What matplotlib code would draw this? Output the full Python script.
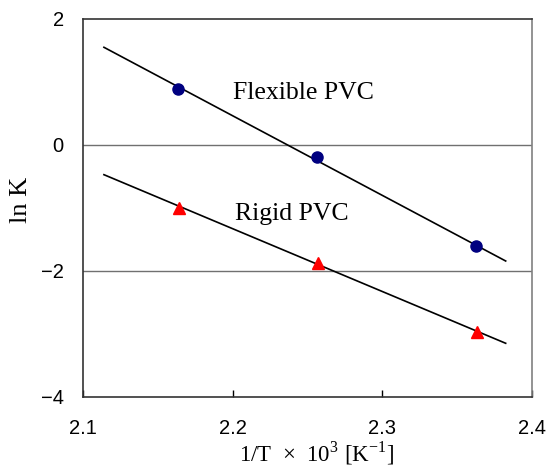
import numpy as np
import matplotlib
matplotlib.use("Agg")
import matplotlib.pyplot as plt

plt.rcParams['mathtext.fontset'] = 'custom'
plt.rcParams['mathtext.rm'] = 'Liberation Serif'

# data
flex_x = [2.1634, 2.2562, 2.3625]
flex_y = [0.889, -0.19, -1.608]
rigid_x = [2.1638, 2.2568, 2.3632]
rigid_y = [-1.01, -1.883, -2.978]

# trend line end points
line_x = [2.1138, 2.3826]
flex_line_y = [1.546, -1.846]
rigid_line_y = [-0.476, -3.152]

x_ticks = [2.1, 2.2, 2.3, 2.4]
y_ticks = [-4, -2, 0, 2]
y_tick_labels = ['\u22124', '\u22122', '0', '2']

fig = plt.figure(figsize=(5.47, 4.66), dpi=100)
ax = fig.add_axes([0.1523, 0.1487, 0.8197, 0.8112])

for yg in [0, -2]:
    ax.axhline(yg, color='#707070', lw=1.0, zorder=1)

ax.plot(line_x, flex_line_y, color='black', lw=1.2, zorder=2)
ax.plot(line_x, rigid_line_y, color='black', lw=1.2, zorder=2)
ax.plot(flex_x, flex_y, 'o', color='#000080', ms=8, zorder=3)
ax.plot(rigid_x, rigid_y, '^', color='red', ms=9, zorder=3)

ax.text(2.2002, 0.82, 'Flexible PVC', family='Liberation Serif', fontsize=18.5,
        va='center', ha='left')
ax.text(2.2015, -1.10, 'Rigid PVC', family='Liberation Serif', fontsize=18.5,
        va='center', ha='left')

ax.set_xlim(2.1, 2.4)
ax.set_ylim(-4, 2)
ax.set_xticks(x_ticks)
ax.set_xticklabels([f'{v:.1f}' for v in x_ticks], family='Liberation Sans', fontsize=14.5)
ax.set_yticks(y_ticks)
ax.set_yticklabels(y_tick_labels, family='Liberation Sans', fontsize=14.5)
ax.tick_params(axis='x', direction='in', length=5, width=1, pad=16)
ax.tick_params(axis='y', length=0, pad=14)

ax.set_xlabel(r'1/T  $\times$  10$^{3}$ [K$^{\mathregular{-1}}$]', family='Liberation Serif',
              fontsize=16.5)
ax.set_ylabel('ln K', family='Liberation Serif', fontsize=19)
ax.xaxis.set_label_coords(0.52, -0.113)
ax.yaxis.set_label_coords(-0.114, 0.52)

for side in ['left', 'bottom', 'top']:
    ax.spines[side].set_color('#333333')
    ax.spines[side].set_linewidth(1.2)
ax.spines['right'].set_color('#808080')
ax.spines['right'].set_linewidth(1.2)

fig.savefig('out.png', dpi=100)
